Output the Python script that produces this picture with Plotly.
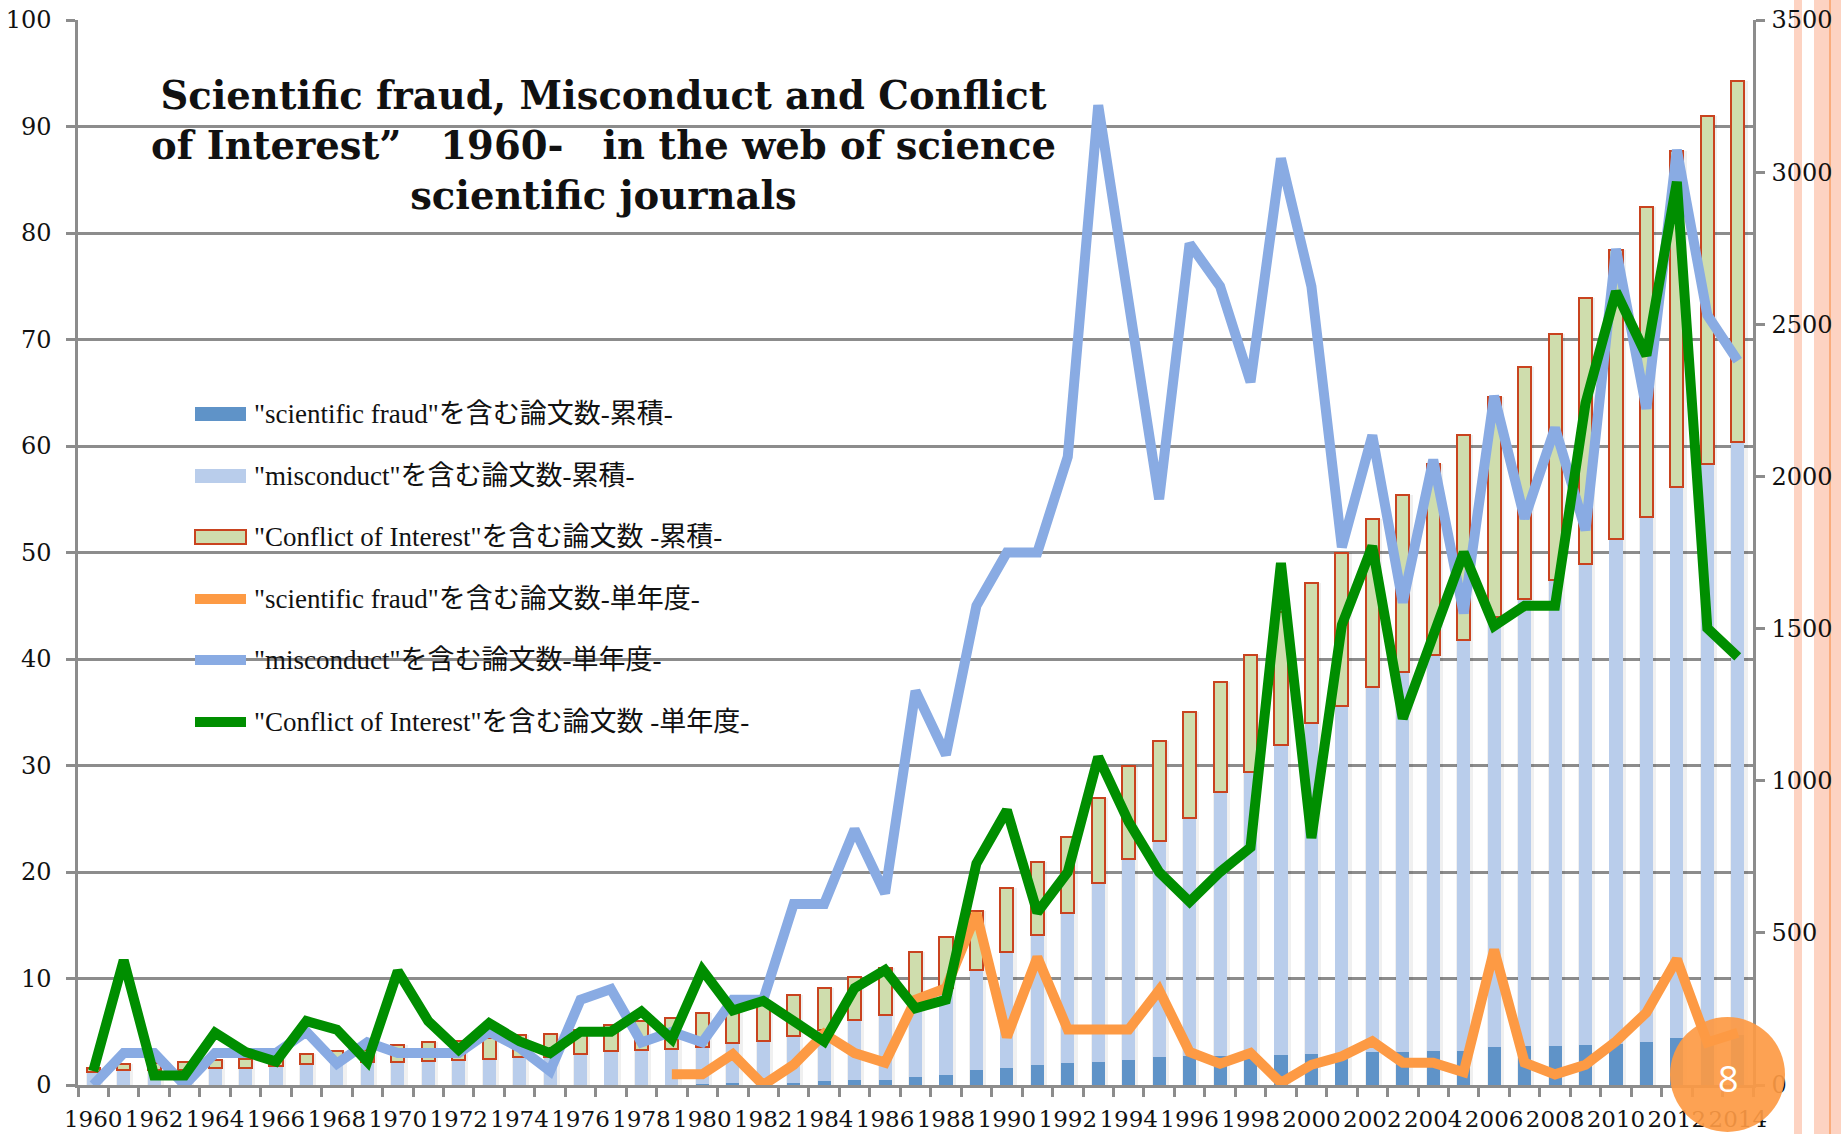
import plotly.graph_objects as go

years = list(range(1960, 2015))
year_labels = [str(y) for y in range(1960, 2015, 2)]

# cumulative counts (right axis)
fraud_cum = [0] * 19 + [1, 2, 5, 5, 7, 12, 15, 17, 25, 34,
                        50, 55, 67, 72, 77, 82, 91, 94, 96, 99,
                        99, 101, 104, 108, 110, 112, 113, 125, 127, 128,
                        130, 135, 142, 154, 158, 163]
misconduct_cum = [44, 48, 49, 49, 55, 57, 61, 68, 74, 75,
                  77, 79, 82, 86, 91, 93, 103, 112, 114, 118,
                  124, 132, 139, 154, 170, 199, 214, 252, 285, 328,
                  383, 427, 492, 588, 660, 711, 785, 867, 930, 1018,
                  1089, 1142, 1201, 1248, 1302, 1350, 1412, 1469, 1531, 1582,
                  1661, 1724, 1810, 1883, 1951]
coi_cum = [11, 21, 23, 26, 27, 30, 31, 35, 39, 40,
           55, 61, 64, 68, 72, 76, 79, 84, 96, 100,
           109, 118, 130, 134, 138, 142, 154, 161, 168, 193,
           210, 238, 252, 277, 305, 329, 346, 361, 385, 438,
           459, 501, 550, 581, 627, 672, 725, 763, 809, 875,
           949, 1019, 1106, 1145, 1187]

# single-year counts (left axis)
fraud_single = [None] * 19 + [1, 1, 2.9, 0, 1.9, 4.8, 3.0, 2.1, 8.0, 9.1,
                              16.1, 4.5, 12.0, 5.2, 5.2, 5.2, 8.9, 3.1, 2.0, 3.0,
                              0.2, 1.9, 2.7, 4.1, 2.1, 2.1, 1.2, 12.7, 2.1, 1.0,
                              1.9, 4.1, 6.8, 11.8, 4.0, 4.9]
misconduct_single = [0, 3, 3, 0, 3, 3, 3, 5, 2, 4,
                     3, 3, 3, 5, 3.5, 1.3, 8, 9, 4, 5,
                     4, 8, 8, 17, 17, 24, 18, 37, 31, 45,
                     50, 50, 59, 92, 74, 55, 79, 75, 66, 87,
                     75, 50.5, 61, 45.3, 58.7, 44.3, 64.7, 53.2, 61.7, 52.1,
                     78.5, 63.5, 87.8, 72.3, 68]
coi_single = [1.3, 11.7, 0.9, 0.9, 4.9, 3.1, 2.2, 6.0, 5.2, 2.2,
              10.7, 6.0, 3.3, 5.8, 4.1, 3.0, 5.0, 5.0, 6.9, 4.3,
              10.8, 7.0, 7.9, 6.0, 4.1, 9.1, 10.8, 7.2, 8.0, 20.8,
              25.8, 16.2, 20.0, 30.8, 24.7, 20.0, 17.2, 20.0, 22.3, 49.0,
              23.2, 43.2, 50.6, 34.4, 42.0, 50.0, 43.1, 45.0, 45.0, 64.0,
              74.5, 68.5, 84.8, 42.9, 40.2]

names = ['"scientific fraud"を含む論文数-累積-',
         '"misconduct"を含む論文数-累積-',
         '"Conflict of Interest"を含む論文数 -累積-',
         '"scientific fraud"を含む論文数-単年度-',
         '"misconduct"を含む論文数-単年度-',
         '"Conflict of Interest"を含む論文数 -単年度-']
C_FRAUD_BAR = '#5f93c8'
C_MIS_BAR = '#b9cdeb'
C_COI_BAR = '#cfddad'
C_COI_EDGE = '#c9431f'
C_FRAUD_LINE = '#fd9a44'
C_MIS_LINE = '#89abe3'
C_COI_LINE = '#008e00'
GRAY = '#8c8c8c'

W, H = 1841, 1134
L, R, T, B = 78, 88, 20, 49
PW, PH = W - L - R, H - T - B


def px_x(p):
    return (p - L) / PW


def px_y(p):
    return (H - B - p) / PH


stack_total = [a + b + c for a, b, c in zip(fraud_cum, misconduct_cum, coi_cum)]

fig = go.Figure()
# soft drop shadow behind the bars (main subplot, drawn first)
sw = 0.56
fig.add_trace(go.Bar(x=years, y=stack_total, width=sw, offset=-sw / 2 + 0.04,
                     marker=dict(color='rgba(0,0,0,0.06)', line=dict(width=0)),
                     hoverinfo='skip', showlegend=False, yaxis='y', xaxis='x'))

bw = 0.43
fig.add_trace(go.Bar(x=years, y=fraud_cum, name=names[0], width=bw,
                     marker=dict(color=C_FRAUD_BAR, line=dict(width=0)), yaxis='y2'))
fig.add_trace(go.Bar(x=years, y=misconduct_cum, name=names[1], width=bw,
                     marker=dict(color=C_MIS_BAR, line=dict(width=0)), yaxis='y2'))
fig.add_trace(go.Bar(x=years, y=coi_cum, name=names[2], width=bw,
                     marker=dict(color=C_COI_BAR, line=dict(color=C_COI_EDGE, width=2)), yaxis='y2'))
fig.add_trace(go.Scatter(x=years, y=fraud_single, name=names[3], mode='lines',
                         line=dict(color=C_FRAUD_LINE, width=10), yaxis='y3'))
fig.add_trace(go.Scatter(x=years, y=misconduct_single, name=names[4], mode='lines',
                         line=dict(color=C_MIS_LINE, width=10), yaxis='y3'))
fig.add_trace(go.Scatter(x=years, y=coi_single, name=names[5], mode='lines',
                         line=dict(color=C_COI_LINE, width=10), yaxis='y3'))

tickfont = dict(family='DejaVu Serif', size=24, color='#111111')
xtickfont = dict(family='DejaVu Serif', size=23, color='#111111')

shapes = []
annotations = []

# manual legend
rows_px = [414, 476, 537, 599, 660, 722]
styles = [('rect', C_FRAUD_BAR, None), ('rect', C_MIS_BAR, None), ('rect', C_COI_BAR, C_COI_EDGE),
          ('line', C_FRAUD_LINE, None), ('line', C_MIS_LINE, None), ('line', C_COI_LINE, None)]
for (kind, col, edge), ypx, nm in zip(styles, rows_px, names):
    hh = 7 if kind == 'rect' else 5
    shapes.append(dict(type='rect', xref='paper', yref='paper',
                       x0=px_x(195), x1=px_x(246), y0=px_y(ypx + hh), y1=px_y(ypx - hh),
                       fillcolor=col, line=dict(color=edge if edge else col, width=2 if edge else 0),
                       layer='above'))
    annotations.append(dict(text=nm, xref='paper', yref='paper', x=px_x(252), y=px_y(ypx),
                            xanchor='left', yanchor='middle', showarrow=False,
                            font=dict(family='Liberation Serif, Noto Sans CJK JP', size=27, color='#111111')))

# title
annotations.append(dict(
    text='Scientific fraud, Misconduct and Conflict<br>of Interest”\u30001960-\u3000in the web of science<br>scientific journals',
    xref='paper', yref='paper', x=px_x(603), y=px_y(145), xanchor='center', yanchor='middle',
    showarrow=False, align='center',
    font=dict(family='DejaVu Serif', size=38.5, color='#111111', weight='bold')))

# decorative side stripes
for x0, x1 in [(1794, 1802), (1814, 1841)]:
    shapes.append(dict(type='rect', xref='paper', yref='paper', x0=px_x(x0), x1=px_x(x1),
                       y0=px_y(H), y1=px_y(0), fillcolor='#fdd3c2', line=dict(width=0), layer='below'))
shapes.append(dict(type='line', xref='paper', yref='paper', x0=px_x(1830), x1=px_x(1830),
                   y0=px_y(H), y1=px_y(0), line=dict(color='#f9a066', width=1.5), layer='below'))

# page badge
shapes.append(dict(type='circle', xref='paper', yref='paper', x0=px_x(1670), x1=px_x(1785),
                   y0=px_y(1132), y1=px_y(1017), fillcolor='#fd9a44', opacity=0.92,
                   line=dict(width=0), layer='above'))
annotations.append(dict(text='8', xref='paper', yref='paper', x=px_x(1728), y=px_y(1078),
                        xanchor='center', yanchor='middle', showarrow=False,
                        font=dict(family='Open Sans', size=36, color='white')))

fig.update_layout(
    width=W, height=H,
    margin=dict(l=L, r=R, t=T, b=B, autoexpand=False),
    paper_bgcolor='white', plot_bgcolor='white',
    barmode='stack', bargap=0,
    showlegend=False,
    xaxis=dict(range=[1959.5, 2014.5], tickmode='array',
               tickvals=list(range(1960, 2015, 2)), ticktext=year_labels,
               ticks='', showgrid=False, zeroline=False, tickangle=0, automargin=False,
               showline=True, linecolor=GRAY, linewidth=2.5,
               tickfont=xtickfont, ticklabelstandoff=12,
               minor=dict(tickvals=[1959.5 + k for k in range(56)], ticks='outside',
                          ticklen=9, tickwidth=2.5, tickcolor=GRAY, showgrid=False)),
    yaxis=dict(range=[0, 3500], visible=False, showgrid=False, zeroline=False, automargin=False),
    yaxis2=dict(range=[0, 3500], dtick=500, side='right', overlaying='y', showgrid=False, zeroline=False,
                showline=True, linecolor=GRAY, linewidth=2.5, automargin=False,
                ticks='outside', ticklen=9, tickwidth=2.5, tickcolor=GRAY,
                tickfont=tickfont, ticklabelstandoff=2),
    yaxis3=dict(range=[0, 100], dtick=10, side='left', overlaying='y',
                showgrid=True, gridcolor=GRAY, gridwidth=2.5, zeroline=False,
                showline=True, linecolor=GRAY, linewidth=2.5, automargin=False,
                ticks='outside', ticklen=9, tickwidth=2.5, tickcolor=GRAY,
                tickfont=tickfont, ticklabelstandoff=10),
    shapes=shapes, annotations=annotations,
)

fig.write_html('out.html', config={'displayModeBar': False},
               post_script="document.body.style.margin='0';document.body.style.overflow='hidden';")
